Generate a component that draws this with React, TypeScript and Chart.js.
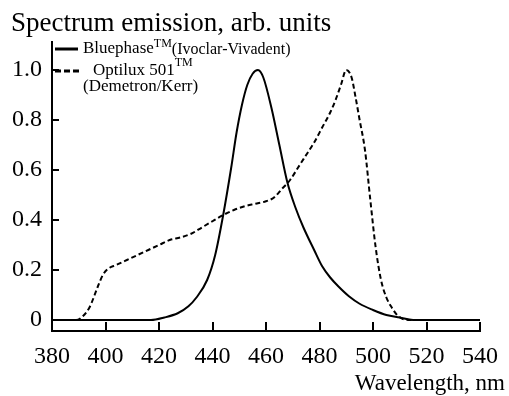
import React, { useEffect, useRef } from "react";
import { Chart, registerables } from "chart.js";

Chart.register(...registerables);

const titleText = "Spectrum emission, arb. units";
const xTitleText = "Wavelength, nm";
const xTickValues = [380, 400, 420, 440, 460, 480, 500, 520, 540];
const yTickValues = [0, 0.2, 0.4, 0.6, 0.8, 1.0];

const bluephaseName = "Bluephase";
const bluephaseMaker = "(Ivoclar-Vivadent)";
const optiluxName = "Optilux 501";
const optiluxMaker = "(Demetron/Kerr)";

const bluephaseX = [380, 400, 417, 422, 427, 431, 434, 438, 441, 444, 447, 449, 451, 453, 455, 457, 459, 462, 465, 468, 471, 474, 478, 481, 484, 487, 491, 495, 500, 505, 510, 515, 540];
const bluephaseY = [0, 0, 0, 0.01, 0.027, 0.055, 0.09, 0.16, 0.26, 0.42, 0.61, 0.75, 0.86, 0.94, 0.985, 1.0, 0.97, 0.85, 0.7, 0.55, 0.45, 0.37, 0.28, 0.215, 0.17, 0.135, 0.095, 0.065, 0.04, 0.02, 0.01, 0, 0];

const optiluxX = [380, 389, 391, 394, 397, 399, 401, 404, 408, 412, 416, 420, 424, 428, 432, 436, 440, 444, 448, 452, 456, 460, 463, 466, 469, 472, 475, 478, 481, 484, 486, 488, 490, 492, 493.5, 495, 497, 499, 501, 503, 505, 507, 509, 511, 514, 540];
const optiluxY = [0, 0, 0.01, 0.05, 0.13, 0.18, 0.205, 0.22, 0.24, 0.26, 0.28, 0.3, 0.32, 0.33, 0.345, 0.37, 0.395, 0.42, 0.44, 0.455, 0.465, 0.475, 0.49, 0.525, 0.56, 0.61, 0.66, 0.71, 0.77, 0.83, 0.88, 0.94, 1.0, 0.97, 0.89, 0.8, 0.68, 0.48, 0.29, 0.16, 0.09, 0.05, 0.02, 0.005, 0, 0];

const FONT = '"Liberation Serif", "Times New Roman", serif';

const overlayPlugin = {
  id: "overlay",
  afterDraw(chart: any) {
    const ctx = chart.ctx;
    const xs = chart.scales.x;
    const ys = chart.scales.y;
    ctx.save();
    ctx.strokeStyle = "#000";
    ctx.fillStyle = "#000";
    ctx.lineWidth = 2;
    ctx.setLineDash([]);
    // inward tick marks
    xs.ticks.forEach((t: any) => {
      if (t.value === xs.min) return;
      const px = Math.round(xs.getPixelForValue(t.value));
      ctx.beginPath();
      ctx.moveTo(px, xs.top);
      ctx.lineTo(px, xs.top - 9);
      ctx.stroke();
    });
    ys.ticks.forEach((t: any) => {
      const py = Math.round(ys.getPixelForValue(t.value));
      ctx.beginPath();
      ctx.moveTo(ys.right, py);
      ctx.lineTo(ys.right + 7, py);
      ctx.stroke();
    });
    // title
    ctx.textAlign = "left";
    ctx.textBaseline = "alphabetic";
    ctx.font = `27px ${FONT}`;
    ctx.fillText(titleText, 11, 31);
    // x title
    ctx.textAlign = "right";
    ctx.font = `23px ${FONT}`;
    ctx.fillText(xTitleText, 505, 390);
    // legend
    ctx.textAlign = "left";
    ctx.lineWidth = 3;
    ctx.beginPath();
    ctx.moveTo(55, 49);
    ctx.lineTo(78, 49);
    ctx.stroke();
    ctx.font = `17px ${FONT}`;
    let x = 83;
    ctx.fillText(bluephaseName, x, 53);
    x += ctx.measureText(bluephaseName).width;
    ctx.font = `12px ${FONT}`;
    ctx.fillText("TM", x, 47);
    x += ctx.measureText("TM").width;
    ctx.font = `16px ${FONT}`;
    ctx.fillText(bluephaseMaker, x, 54);

    ctx.setLineDash([6, 3]);
    ctx.beginPath();
    ctx.moveTo(55, 71);
    ctx.lineTo(79, 71);
    ctx.stroke();
    ctx.setLineDash([]);
    ctx.font = `17px ${FONT}`;
    x = 93;
    ctx.fillText(optiluxName, x, 75);
    x += ctx.measureText(optiluxName).width;
    ctx.font = `12px ${FONT}`;
    ctx.fillText("TM", x, 66);
    ctx.font = `17px ${FONT}`;
    ctx.fillText(optiluxMaker, 83, 91);
    ctx.restore();
  },
};

export default function App() {
  const ref = useRef<HTMLCanvasElement | null>(null);
  useEffect(() => {
    if (!ref.current) return;
    const chart = new Chart(ref.current, {
      type: "line",
      data: {
        datasets: [
          {
            label: bluephaseName,
            data: bluephaseX.map((x, i) => ({ x, y: bluephaseY[i] })),
            borderColor: "#000",
            borderWidth: 2,
            pointRadius: 0,
            fill: false,
            cubicInterpolationMode: "monotone",
          },
          {
            label: optiluxName,
            data: optiluxX.map((x, i) => ({ x, y: optiluxY[i] })),
            borderColor: "#000",
            borderWidth: 2,
            borderDash: [5, 3],
            pointRadius: 0,
            fill: false,
            cubicInterpolationMode: "monotone",
          },
        ],
      },
      options: {
        animation: false,
        responsive: false,
        events: [],
        layout: { padding: { top: 42, right: 23, left: 0, bottom: 0 } },
        plugins: { legend: { display: false }, tooltip: { enabled: false }, title: { display: false } },
        scales: {
          x: {
            type: "linear",
            min: 380,
            max: 540,
            afterBuildTicks: (s: any) => {
              s.ticks = xTickValues.map((v) => ({ value: v }));
            },
            afterFit: (s: any) => {
              s.height = 65;
            },
            grid: { display: true, drawOnChartArea: false, drawTicks: false },
            border: { display: true, color: "#000", width: 2 },
            ticks: {
              color: "#000",
              font: { family: FONT, size: 24 },
              padding: 11,
              maxRotation: 0,
              autoSkip: false,
              callback: (v: any) => String(v),
            },
          },
          y: {
            type: "linear",
            min: -0.044,
            max: 1.112,
            afterBuildTicks: (s: any) => {
              s.ticks = yTickValues.map((v) => ({ value: v }));
            },
            afterFit: (s: any) => {
              s.width = 52;
            },
            grid: { display: true, drawOnChartArea: false, drawTicks: false },
            border: { display: true, color: "#000", width: 2 },
            ticks: {
              color: "#000",
              font: { family: FONT, size: 24 },
              padding: 10,
              autoSkip: false,
              callback: (v: any) => (v === 0 ? "0" : Number(v).toFixed(1)),
            },
          },
        },
      },
      plugins: [overlayPlugin],
    } as any);
    return () => chart.destroy();
  }, []);
  return (
    <div style={{ position: "absolute", left: 0, top: 0, width: 509, height: 396, background: "#fff" }}>
      <canvas ref={ref} width={509} height={396} style={{ width: 509, height: 396 }} />
    </div>
  );
}
